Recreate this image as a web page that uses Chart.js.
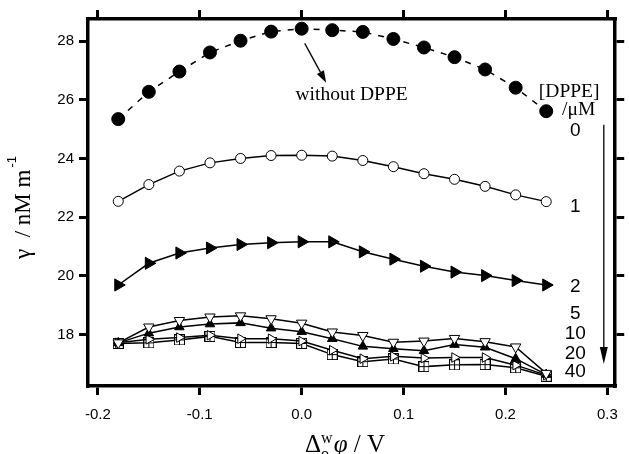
<!DOCTYPE html>
<html lang="en">
<head>
<meta charset="UTF-8" />
<title>Interfacial tension vs potential</title>
<script src="https://cdn.jsdelivr.net/npm/chart.js"></script>
<style>
  html, body { margin: 0; padding: 0; background: #fff; }
  #wrap { position: relative; width: 629px; height: 454px; }
</style>
</head>
<body>
<div id="wrap"><canvas id="gammaChart"></canvas></div>
<script>
// potential (V) and gamma (nN m-1)
const potentials = [-0.18, -0.15, -0.12, -0.09, -0.06, -0.03, 0, 0.03, 0.06, 0.09, 0.12, 0.15, 0.18, 0.21, 0.24];
const gamma0  = [25.34, 26.27, 26.96, 27.61, 28.01, 28.32, 28.42, 28.37, 28.31, 28.07, 27.78, 27.45, 27.03, 26.41, 25.61];
const gamma1  = [22.54, 23.11, 23.57, 23.85, 24.00, 24.10, 24.11, 24.08, 23.93, 23.72, 23.48, 23.29, 23.05, 22.76, 22.53];
const gamma2  = [19.69, 20.43, 20.78, 20.95, 21.07, 21.13, 21.16, 21.16, 20.82, 20.57, 20.33, 20.13, 20.01, 19.84, 19.69];
const gamma5  = [17.72, 18.26, 18.48, 18.60, 18.64, 18.54, 18.39, 18.09, 17.97, 17.74, 17.78, 17.87, 17.76, 17.58, 16.68];
const gamma10 = [17.72, 18.05, 18.26, 18.36, 18.40, 18.22, 18.10, 17.86, 17.60, 17.52, 17.45, 17.66, 17.57, 17.18, 16.64];
const gamma20 = [17.72, 17.84, 17.90, 17.98, 17.86, 17.86, 17.78, 17.47, 17.18, 17.26, 17.20, 17.22, 17.22, 16.96, 16.62];
const gamma40 = [17.70, 17.72, 17.82, 17.94, 17.73, 17.73, 17.70, 17.32, 17.08, 17.17, 16.91, 16.97, 16.98, 16.87, 16.58];

const concLabels = ['0', '1', '2', '5', '10', '20', '40'];
const xTickValues = [-0.2, -0.1, 0.0, 0.1, 0.2, 0.3];
const yTickValues = [18, 20, 22, 24, 26, 28];

const SERIF = '"Liberation Serif", "Times New Roman", serif';
const SANS = '"Liberation Sans", Arial, sans-serif';

const X_MIN = -0.2097, X_MAX = 0.3077;
const Y_MIN = 16.25, Y_MAX = 28.75;

// square-with-cross marker
function boxCross(size) {
  const c = document.createElement('canvas');
  c.width = size; c.height = size;
  const g = c.getContext('2d');
  g.fillStyle = '#fff';
  g.fillRect(0, 0, size, size);
  g.strokeStyle = '#000';
  g.lineWidth = 1;
  g.strokeRect(0.5, 0.5, size - 1, size - 1);
  g.beginPath();
  g.moveTo(size / 2, 0); g.lineTo(size / 2, size);
  g.moveTo(0, size / 2); g.lineTo(size, size / 2);
  g.stroke();
  return c;
}

function pts(vals) {
  return potentials.map((p, i) => ({ x: p, y: vals[i] }));
}

function series(vals, style) {
  return Object.assign({
    data: pts(vals),
    borderColor: '#000',
    borderWidth: 1.5,
    pointBorderColor: '#000',
    pointBorderWidth: 1,
    pointBackgroundColor: '#fff',
    pointRadius: 5,
    fill: false,
    tension: 0,
  }, style);
}

function arrow(ctx, x1, y1, x2, y2, headLen, headHalf) {
  const ang = Math.atan2(y2 - y1, x2 - x1);
  const bx = x2 - headLen * Math.cos(ang), by = y2 - headLen * Math.sin(ang);
  ctx.beginPath();
  ctx.moveTo(x1, y1);
  ctx.lineTo(bx, by);
  ctx.stroke();
  ctx.beginPath();
  ctx.moveTo(x2, y2);
  ctx.lineTo(bx + headHalf * Math.sin(ang), by - headHalf * Math.cos(ang));
  ctx.lineTo(bx - headHalf * Math.sin(ang), by + headHalf * Math.cos(ang));
  ctx.closePath();
  ctx.fill();
}

// axis titles and in-plot annotations
const labelsPlugin = {
  id: 'labelsPlugin',
  afterDraw(chart) {
    const { ctx, chartArea: a, scales } = chart;
    const X = v => scales.x.getPixelForValue(v);
    const Y = v => scales.y.getPixelForValue(v);
    ctx.save();
    ctx.fillStyle = '#000';
    ctx.strokeStyle = '#000';
    ctx.lineWidth = 1.3;

    // "without DPPE" + arrow
    ctx.font = '19.5px ' + SERIF;
    ctx.textAlign = 'center';
    ctx.textBaseline = 'middle';
    ctx.fillText('without DPPE', X(0.049), Y(26.17));
    arrow(ctx, X(0.003), Y(27.92), X(0.024), Y(26.58), 12, 4);

    // legend heading
    ctx.fillText('[DPPE]', X(0.2625), Y(26.27));
    ctx.textAlign = 'left';
    ctx.fillText('/\u03BCM', X(0.2555), Y(25.66));

    // concentration labels
    const labelY = [24.95, 22.34, 19.63, 18.71, 18.03, 17.36, 16.75];
    ctx.font = '19px ' + SANS;
    ctx.textAlign = 'center';
    concLabels.forEach((t, i) => ctx.fillText(t, X(0.2685), Y(labelY[i])));

    // long downward arrow
    arrow(ctx, X(0.2965), Y(25.15), X(0.2965), Y(17.0), 17, 4);

    // y title: gamma / nN m^-1
    ctx.save();
    ctx.translate(22, (a.top + a.bottom) / 2 + 5);
    ctx.rotate(-Math.PI / 2);
    ctx.textBaseline = 'alphabetic';
    ctx.textAlign = 'left';
    const main = '\u03B3  / nM m';
    ctx.font = '23px ' + SERIF;
    const w1 = ctx.measureText(main).width;
    ctx.font = '13px ' + SANS;
    const w2 = ctx.measureText('-1').width;
    const sx = -(w1 + w2 + 2) / 2;
    ctx.font = '23px ' + SERIF;
    ctx.fillText(main, sx, 8);
    ctx.font = '13px ' + SANS;
    ctx.fillText('-1', sx + w1 + 2, -6);
    ctx.restore();

    // x title: Delta_o^w phi / V
    const base = 452;
    const parts = [
      { t: '\u0394', f: '25px ' + SERIF, dy: 0 },
      { t: 'o', f: '16px ' + SERIF, dy: 7, stack: true },
      { t: 'w', f: '16px ' + SERIF, dy: -9, gap: 1 },
      { t: '\u03C6', f: 'italic 25px ' + SERIF, dy: 0 },
      { t: ' / V', f: '25px ' + SERIF, dy: 0 },
    ];
    ctx.textBaseline = 'alphabetic';
    ctx.textAlign = 'left';
    let total = 0;
    parts.forEach(p => { ctx.font = p.f; p.w = ctx.measureText(p.t).width; if (!p.stack) total += p.w + (p.gap || 0); });
    let cx = 345 - total / 2;
    parts.forEach(p => {
      ctx.font = p.f;
      ctx.fillText(p.t, cx, base + p.dy);
      if (!p.stack) cx += p.w + (p.gap || 0);
    });
    ctx.restore();
  }
};

const tickGrid = {
  drawOnChartArea: false,
  drawTicks: true,
  tickLength: 9,
  lineWidth: 3,
  color: '#000',
};
const frameBorder = { display: true, width: 3.5, color: '#000' };

new Chart(document.getElementById('gammaChart'), {
  type: 'line',
  data: {
    datasets: [
      series(gamma0, { borderDash: [6, 7], pointStyle: 'circle', pointRadius: 6.5, pointBackgroundColor: '#000' }),
      series(gamma1, { pointStyle: 'circle', pointRadius: 5 }),
      series(gamma2, { pointStyle: 'triangle', pointRotation: 90, pointRadius: 7, pointBackgroundColor: '#000' }),
      series(gamma5, { pointStyle: 'triangle', pointRotation: 180, pointRadius: 6 }),
      series(gamma10, { pointStyle: 'triangle', pointRadius: 5.5, pointBackgroundColor: '#000' }),
      series(gamma20, { pointStyle: 'triangle', pointRotation: 90, pointRadius: 5.5 }),
      series(gamma40, { pointStyle: boxCross(11) }),
    ],
  },
  options: {
    responsive: true,
    maintainAspectRatio: false,
    animation: false,
    layout: { padding: 0, autoPadding: false },
    plugins: { legend: { display: false }, tooltip: { enabled: false } },
    scales: {
      x: {
        type: 'linear', position: 'bottom', min: X_MIN, max: X_MAX,
        afterBuildTicks: s => { s.ticks = xTickValues.map(v => ({ value: v })); },
        afterFit: s => { s.height = 68; },
        grid: tickGrid, border: frameBorder,
        ticks: { color: '#000', padding: 11, font: { family: SANS, size: 15 },
                 callback: v => v.toFixed(1) },
      },
      x2: {
        type: 'linear', position: 'top', min: X_MIN, max: X_MAX,
        afterBuildTicks: s => { s.ticks = xTickValues.map(v => ({ value: v })); },
        afterFit: s => { s.height = 19; },
        grid: tickGrid, border: frameBorder,
        ticks: { display: false },
      },
      y: {
        type: 'linear', position: 'left', min: Y_MIN, max: Y_MAX,
        afterBuildTicks: s => { s.ticks = yTickValues.map(v => ({ value: v })); },
        afterFit: s => { s.width = 88; },
        grid: tickGrid, border: frameBorder,
        ticks: { color: '#000', padding: 5, font: { family: SANS, size: 15 } },
      },
      y2: {
        type: 'linear', position: 'right', min: Y_MIN, max: Y_MAX,
        afterBuildTicks: s => { s.ticks = yTickValues.map(v => ({ value: v })); },
        afterFit: s => { s.width = 6; },
        grid: tickGrid, border: frameBorder,
        ticks: { display: false },
      },
    },
  },
  plugins: [labelsPlugin],
});
</script>
</body>
</html>
